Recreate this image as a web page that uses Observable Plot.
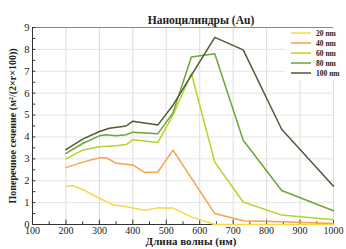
<!DOCTYPE html>
<html><head><meta charset="utf-8">
<script src="https://cdn.jsdelivr.net/npm/d3@7"></script>
<script src="https://cdn.jsdelivr.net/npm/@observablehq/plot@0.6"></script>
<style>
body{margin:0;background:#fff;}
#wrap{position:relative;width:346px;height:249px;}
svg, svg text{font-family:"Liberation Serif","DejaVu Serif",serif !important;}
#legend{position:absolute;left:285px;top:28px;width:61px;height:52px;background:#fff;}
</style></head>
<body><div id="wrap"><div id="chart"></div><div id="legend"></div></div>
<script>
const seriesNames = ["20 nm","40 nm","60 nm","80 nm","100 nm"];
const colors = ["#f8d84a","#f5a24a","#b5d42a","#6aa63a","#505a35"];
const x20  = [200,220,250,300,340,380,400,435,475,520,575,645,730,845,1000];
const y20  = [1.75,1.78,1.6,1.2,0.9,0.82,0.75,0.65,0.76,0.75,0.35,0.0,0.0,0.0,0.0];
const x40  = [200,250,300,320,350,400,435,475,520,645,730,845,1000];
const y40  = [2.6,2.85,3.05,3.05,2.8,2.72,2.38,2.4,3.4,0.5,0.17,0.12,0.05];
const x60  = [200,250,300,350,380,400,475,520,575,645,730,845,1000];
const y60  = [3.0,3.4,3.55,3.6,3.65,3.87,3.75,5.0,6.9,2.85,1.03,0.43,0.22];
const x80  = [200,250,300,320,350,380,400,475,520,575,645,730,845,1000];
const y80  = [3.25,3.7,4.05,4.1,4.05,4.1,4.22,4.15,5.1,7.65,7.8,3.85,1.55,0.63];
const x100 = [200,250,300,330,380,400,475,520,645,730,845,1000];
const y100 = [3.42,3.9,4.25,4.4,4.5,4.72,4.55,5.45,8.55,7.98,4.35,1.75];
const xTicks = [100,200,300,400,500,600,700,800,900,1000];
const yTicks = [0,1,2,3,4,5,6,7,8,9];

const xs=[x20,x40,x60,x80,x100], ys=[y20,y40,y60,y80,y100];
const data = [];
seriesNames.forEach((s,i)=>xs[i].forEach((x,j)=>data.push({s,x,y:ys[i][j]})));
const xMinor = d3.range(150,1000,100);
const yMinor = d3.range(0.5,9,1);

const chart = Plot.plot({
  width:346, height:249,
  marginLeft:32, marginRight:13, marginTop:27, marginBottom:25,
  style:{fontSize:"10px", background:"#fff", color:"#222"},
  x:{type:"linear", domain:[100,1000], label:null, axis:null},
  y:{type:"linear", domain:[0,9], label:null, axis:null},
  color:{domain:seriesNames, range:colors},
  marks:[
    Plot.gridX(xTicks.slice(1), {stroke:"#ddd", strokeOpacity:1, strokeWidth:1}),
    Plot.gridY(yTicks.slice(1,9), {stroke:"#e4e4e4", strokeOpacity:1, strokeWidth:1}),
    Plot.ruleY([9], {stroke:"#888", strokeWidth:1}),
    Plot.ruleX(xTicks.slice(1), {x:d=>d, y1:0, y2:0.2, stroke:"#333"}),
    Plot.ruleX(xMinor, {x:d=>d, y1:0, y2:0.12, stroke:"#333"}),
    Plot.ruleY(yTicks.concat(yMinor), {y:d=>d, x1:100, x2:110, stroke:"#333"}),
    Plot.ruleX([100], {stroke:"#333"}),
    Plot.ruleY([0], {stroke:"#333"}),
    Plot.line(data, {x:"x", y:"y", z:"s", stroke:"s", strokeWidth:1.5}),
    Plot.axisX(xTicks, {tickSize:0, tickPadding:2, fontSize:10, tickFormat:d=>String(d), label:null}),
    Plot.axisY(yTicks, {tickSize:0, tickPadding:3, fontSize:10.5, tickFormat:d=>String(d), label:null}),
    Plot.text(["Наноцилиндры (Au)"], {frameAnchor:"top", dy:-12, dx:18, fontWeight:"bold", fontSize:11.5}),
    Plot.text(["Длина волны (нм)"], {frameAnchor:"bottom", dy:20.5, dx:8, fontWeight:"bold", fontSize:11}),
    Plot.text(["Поперечное сечение (м²/(2×r×100))"], {frameAnchor:"left", textAnchor:"middle", dx:-20, dy:0, rotate:-90, fontWeight:"bold", fontSize:10})
  ]
});
document.getElementById("chart").appendChild(chart);

const lg = d3.select("#legend").append("svg").attr("width",61).attr("height",52);
seriesNames.forEach((s,i)=>{
  const yy = 5+i*10;
  lg.append("line").attr("x1",6).attr("x2",26).attr("y1",yy).attr("y2",yy).attr("stroke",colors[i]).attr("stroke-width",1.5);
  lg.append("text").attr("x",31).attr("y",yy+3).attr("font-size",7.5).attr("font-weight","bold").attr("fill","#222").text(s);
});
</script></body></html>
